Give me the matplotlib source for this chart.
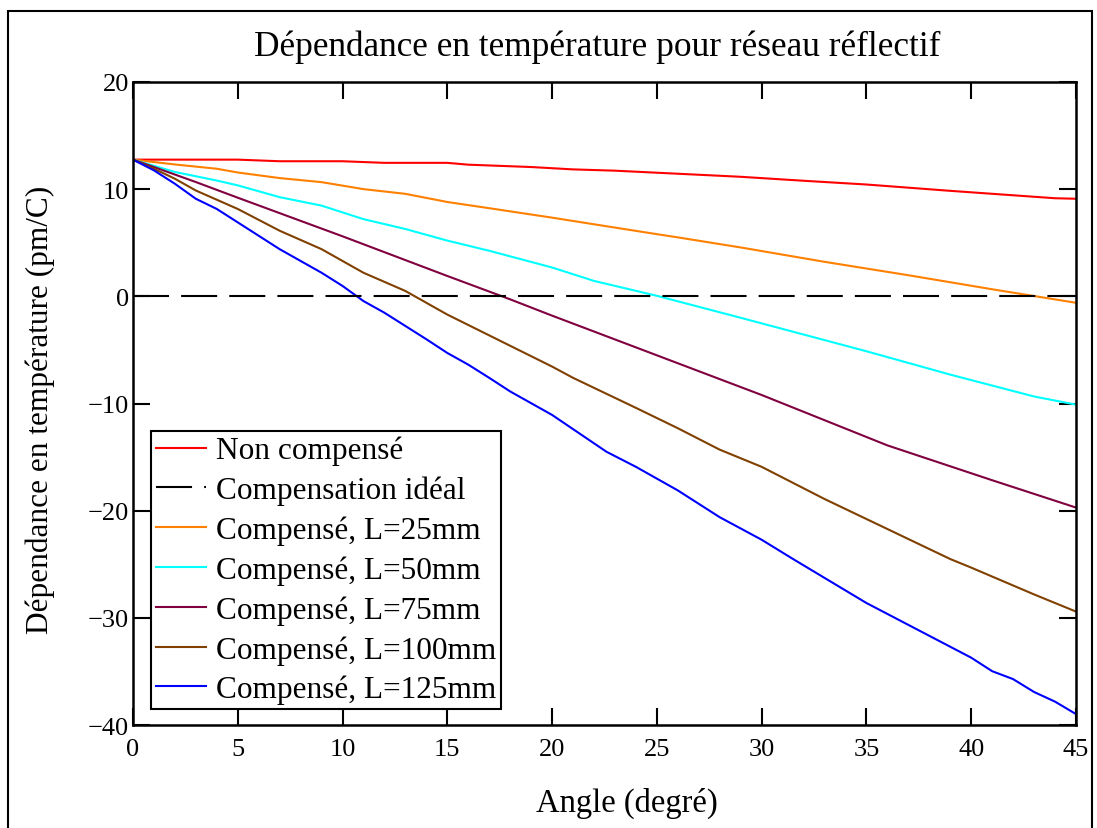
import matplotlib
matplotlib.use("Agg")
import matplotlib.pyplot as plt
from matplotlib.patches import Rectangle

plt.rcParams["font.family"] = ["Liberation Serif", "DejaVu Serif"]
plt.rcParams["axes.unicode_minus"] = True

# data (angle in degrees, value in pm/C)
ang_red = [0, 5, 7, 10, 12, 15, 16, 19, 21, 23, 25, 27, 29, 32, 35, 39, 44, 45]
val_red = [12.75, 12.75, 12.6, 12.6, 12.45, 12.45, 12.28, 12.06, 11.84, 11.72,
           11.53, 11.34, 11.15, 10.78, 10.43, 9.84, 9.15, 9.1]

ang_25 = [0, 2, 4, 5, 7, 9, 11, 13, 15, 17, 20, 22, 25, 26, 29, 33, 37, 41, 45]
val_25 = [12.75, 12.3, 11.9, 11.55, 11.03, 10.65, 10.0, 9.56, 8.8, 8.22, 7.34,
          6.72, 5.8, 5.5, 4.56, 3.22, 1.97, 0.66, -0.6]

ang_50 = [0, 2, 4, 5, 7, 9, 11, 13, 15, 17, 20, 22, 25, 29, 35, 39, 43, 45]
val_50 = [12.75, 11.6, 10.8, 10.35, 9.25, 8.46, 7.2, 6.28, 5.2, 4.25, 2.69,
          1.44, 0.05, -2.0, -5.12, -7.3, -9.34, -10.1]

ang_75 = [0, 1, 3, 5, 10, 15, 18, 20, 25, 30, 36, 41, 45]
val_75 = [12.75, 12.06, 10.66, 9.2, 5.6, 1.9, -0.28, -1.8, -5.5, -9.2, -13.9,
          -17.15, -19.7]

ang_100 = [0, 1, 2, 3, 5, 7, 9, 10, 11, 13, 15, 20, 21, 24, 26, 28, 30, 33, 36,
           39, 40, 43, 45]
val_100 = [12.75, 11.9, 10.97, 9.87, 8.15, 6.12, 4.4, 3.3, 2.2, 0.5, -1.7, -6.55,
           -7.6, -10.4, -12.3, -14.3, -15.9, -18.9, -21.7, -24.5, -25.3, -27.8,
           -29.4]

ang_125 = [0, 1, 2, 3, 4, 5, 7, 9, 10, 11, 12, 14, 15, 16, 17, 18, 20, 22.6, 24,
           26, 28, 30, 31.5, 35, 40, 41, 42, 43, 44, 45]
val_125 = [12.75, 11.75, 10.5, 9.1, 8.15, 6.9, 4.4, 2.2, 0.97, -0.44, -1.53,
           -4.0, -5.28, -6.37, -7.6, -8.87, -11.06, -14.5, -15.9, -18.1, -20.6,
           -22.7, -24.5, -28.6, -33.7, -34.96, -35.7, -36.9, -37.8, -38.96]

ideal_ang = [0, 45]
ideal_val = [0, 0]

series = [
    (ang_red, val_red, "#ff0000", "Non compensé"),
    (ang_25, val_25, "#ff8000", "Compensé, L=25mm"),
    (ang_50, val_50, "#00ffff", "Compensé, L=50mm"),
    (ang_75, val_75, "#800040", "Compensé, L=75mm"),
    (ang_100, val_100, "#804000", "Compensé, L=100mm"),
    (ang_125, val_125, "#0000ff", "Compensé, L=125mm"),
]


def main():
    fig = plt.figure(figsize=(10.97, 8.29), dpi=100)
    ax = fig.add_axes([0.1212, 0.124, 0.8596, 0.776])

    handles = {}
    for x, y, c, lab in series:
        handles[lab], = ax.plot(x, y, color=c, lw=1.5, label=lab)
    # dash 36 px, gap 12 px at lw 1.5 pt
    handles["ideal"], = ax.plot(ideal_ang, ideal_val, color="black", lw=1.5,
                                dashes=(17.3, 5.8), label="Compensation idéal")

    order = [handles["Non compensé"], handles["ideal"]] + \
        [handles[s[3]] for s in series[1:]]
    leg = ax.legend(handles=order, loc="lower left",
                    bbox_to_anchor=(0.1376, 0.1435), bbox_transform=fig.transFigure,
                    fontsize=22.5, frameon=True, fancybox=False, framealpha=1,
                    edgecolor="black", handlelength=1.6, handletextpad=0.32,
                    labelspacing=0.33, borderpad=0.15, borderaxespad=0)
    leg.get_frame().set_linewidth(1.5)

    ax.set_xlim(0, 45)
    ax.set_ylim(-40, 20)
    ax.set_xticks(range(0, 46, 5))
    ax.set_yticks(range(-40, 21, 10))
    ax.tick_params(direction="in", length=12, width=1.5, top=True, right=True,
                   labelsize=19)
    ax.tick_params(axis="x", pad=9)
    ax.tick_params(axis="y", pad=3)
    for s in ax.spines.values():
        s.set_linewidth(1.8)

    fig.text(0.544, 0.943, "Dépendance en température pour réseau réflectif",
             ha="center", va="center", fontsize=25.4)
    fig.text(0.571, 0.031, "Angle (degré)", ha="center", va="center", fontsize=23.5)
    fig.text(0.037, 0.505, "Dépendance en température (pm/C)", ha="center",
             va="center", rotation=90, fontsize=22.5)

    # outer frame like the source document
    fig.patches.append(Rectangle((0.0073, -0.05), 0.9881, 1.0355, fill=False,
                                 lw=1.5, edgecolor="black",
                                 transform=fig.transFigure, figure=fig))

    fig.savefig("out.png", dpi=100)
    plt.close(fig)


if __name__ == "__main__":
    main()
